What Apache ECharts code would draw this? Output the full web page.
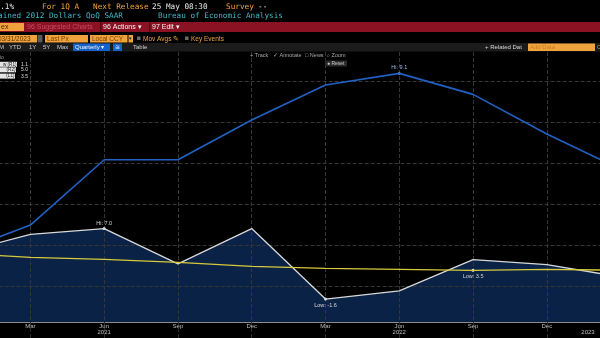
<!DOCTYPE html>
<html><head><meta charset="utf-8">
<script src="https://cdn.jsdelivr.net/npm/echarts@6/dist/echarts.min.js"></script>
<style>html,body{margin:0;padding:0;background:#000;}#c{width:600px;height:338px;}</style>
</head><body><div id="c"></div>
<script>
// ---- data ----
const categories = ['Dec 2020','Mar 2021','Jun 2021','Sep 2021','Dec 2021','Mar 2022','Jun 2022','Sep 2022','Dec 2022','Mar 2023'];
const monthLabels = ['Dec','Mar','Jun','Sep','Dec','Mar','Jun','Sep','Dec','Mar'];
const yearLabels = ['','','2021','','','','2022','','',''];
const extraYearLabel = '2023';
const gdpQoQ = [3.9, 6.3, 7.0, 2.7, 7.0, -1.6, -0.6, 3.2, 2.6, 1.1];   // white area, R1
const cpiYoY = [1.4, 2.6, 5.4, 5.4, 7.1, 8.6, 9.1, 8.2, 6.5, 5.0];    // blue, R2
const seriesL1 = [5.2, 4.8, 4.6, 4.3, 3.9, 3.7, 3.6, 3.5, 3.6, 3.5];  // yellow, L1

const MONO = '"DejaVu Sans Mono","Liberation Mono",monospace';
const SANS = '"Liberation Sans",Arial,sans-serif';
const ORANGE = '#f0a23c';
function T(x, y, text, fill, size, font, align) {
  return {type:'text', x:x, y:y, z:60, silent:true,
    style:{text:text, fill:fill, fontSize:size, fontFamily:font||SANS, verticalAlign:'middle', align:align||'left'}};
}
function R(x, y, w, h, fill, z) {
  return {type:'rect', z:z||55, silent:true, shape:{x:x, y:y, width:w, height:h}, style:{fill:fill}};
}
const last = a => a[a.length-1].toFixed(1);

const graphics = [
  R(0, 0, 600, 51.5, '#000', 50),
  // row 1
  T(-4.5, 7, '1.1%', '#e6e6e6', 7.7, MONO),
  T(42, 7, 'For 1Q A', ORANGE, 7.7, MONO),
  T(93, 7, 'Next Release', ORANGE, 7.7, MONO),
  T(152, 7, '25 May 08:30', '#e6e6e6', 7.7, MONO),
  T(226, 7, 'Survey', ORANGE, 7.7, MONO),
  T(258, 7, '--', '#e6e6e6', 7.7, MONO),
  // row 2
  T(-2, 16.5, 'ained 2012 Dollars QoQ SAAR', '#3fb6c6', 7.7, MONO),
  T(158, 16.5, 'Bureau of Economic Analysis', '#3fb6c6', 7.7, MONO),
  // row 3 red bar
  R(0, 22, 600, 10, '#8a1222'),
  R(0, 23, 24, 8, ORANGE, 56),
  T(1, 27, 'ex', '#4a2800', 7),
  T(27, 27, '96 Suggested Charts', '#c84a62', 7),
  R(100, 22, 1.5, 10, '#5a0812', 56),
  T(103, 27, '96 Actions \u25BE', '#f2f2f2', 7),
  R(149, 22, 1.5, 10, '#5a0812', 56),
  T(152, 27, '97 Edit \u25BE', '#f2f2f2', 7),
  // row 4
  R(0, 35, 37, 7.5, ORANGE, 56),
  T(-2, 38.8, '03/31/2023', '#5a3000', 6.5),
  R(37.5, 35, 5, 7.5, '#5a5a5a', 56),
  R(45, 35, 43, 7.5, ORANGE, 56),
  T(47, 38.8, 'Last Px', '#7a4200', 6.5),
  R(90, 35, 37.5, 7.5, ORANGE, 56),
  T(92, 38.8, 'Local CCY', '#7a4200', 6.5),
  R(128.5, 35, 4.5, 7.5, ORANGE, 56),
  T(128.8, 38.8, '\u25BE', '#3a2000', 5),
  R(137, 36.5, 3.5, 3.5, '#6a6a6a', 56),
  T(143, 38.8, 'Mov Avgs \u270E', ORANGE, 6.5),
  R(185, 36.5, 3.5, 3.5, '#6a6a6a', 56),
  T(191, 38.8, 'Key Events', ORANGE, 6.5),
  // row 5
  R(0, 43, 600, 8.5, '#1b1b1b', 55),
  T(-1, 47.2, 'M', '#d0d0d0', 6),
  T(9, 47.2, 'YTD', '#d0d0d0', 6),
  T(29, 47.2, '1Y', '#d0d0d0', 6),
  T(43, 47.2, '5Y', '#d0d0d0', 6),
  T(57, 47.2, 'Max', '#d0d0d0', 6),
  R(73, 43.5, 37, 7.5, '#1662c8', 56),
  T(75, 47.2, 'Quarterly \u25BE', '#f4f4f4', 6),
  R(113, 43.5, 9, 7.5, '#1662c8', 56),
  T(114.5, 47.2, '\u2245', '#f4f4f4', 6),
  T(133, 47.2, 'Table', '#d0d0d0', 6),
  T(485, 47.2, '+ Related Dat', '#d8d8d8', 6),
  R(528, 43.5, 67, 7.5, ORANGE, 56),
  T(530, 47.2, 'Add Data', '#c57c22', 6),
  T(597, 47.2, 'C', '#aaaaaa', 6),
  // chart overlay toolbar
  T(250, 55.5, '+ Track', '#a8a8a8', 5.5),
  T(273, 55.5, '\u2713 Annotate', '#a8a8a8', 5.5),
  T(305, 55.5, '\u25A1 News', '#a8a8a8', 5.5),
  T(327, 55.5, '\u2315 Zoom', '#a8a8a8', 5.5),
  R(325, 60.5, 22, 6, '#2a2a2a', 56),
  T(327, 63.6, '\u25CF Reset', '#c8c8c8', 5),
  // legend boxes
  T(0, 57.5, 'io', '#9a9a9a', 5),
  R(0, 61.8, 17, 5, '#e4e4e4', 56),
  T(16.5, 64.4, 'w (R1)', '#202020', 4.6, SANS, 'right'),
  T(21, 64.4, last(gdpQoQ), '#dcdcdc', 5),
  R(0, 67.3, 16, 5, '#e4e4e4', 56),
  T(15.5, 69.9, '(R2)', '#202020', 4.6, SANS, 'right'),
  T(21, 69.9, last(cpiYoY), '#dcdcdc', 5),
  R(0, 73.6, 15, 5, '#e4e4e4', 56),
  T(14.5, 76.2, '(L1)', '#202020', 4.6, SANS, 'right'),
  T(21, 76.2, last(seriesL1), '#dcdcdc', 5),
  // trailing year label
  T(588, 332.2, extraYearLabel, '#bdbdbd', 6, SANS, 'center')
];

function hiLow(color, labelColor, which) {
  const items = [];
  if (which.indexOf('max') >= 0) items.push({type:'max', name:'Hi', label:{position:'top', distance:1}});
  if (which.indexOf('min') >= 0) items.push({type:'min', name:'Low', label:{position:'bottom', distance:1.5}});
  return {
    symbol:'circle', symbolSize:3, itemStyle:{color:color},
    label:{show:true, fontSize:5.5, color:labelColor, fontFamily:SANS,
      formatter: p => p.name + ': ' + Number(p.value).toFixed(1)},
    data: items
  };
}

const gridLineStyle = {color:'#363636', type:'dashed', width:1};
const chart = echarts.init(document.getElementById('c'), null, {renderer:'canvas', width:600, height:338});
chart.setOption({
  backgroundColor:'#000',
  animation:false,
  grid:{left:-43.4, width:664, top:40, height:282, containLabel:false, outerBoundsMode:'none'},
  xAxis:{
    type:'category', data:categories, boundaryGap:false, z:3, position:'bottom',
    axisLine:{onZero:false, lineStyle:{color:'#8c8c8c', width:1}},
    axisTick:{show:true, length:16, lineStyle:{color:'#2e2e2e', type:'dashed'}},
    axisLabel:{interval:0, fontSize:6, lineHeight:6, margin:1, color:'#bdbdbd', fontFamily:SANS,
      formatter:(v, i) => monthLabels[i] + (yearLabels[i] ? '\n' + yearLabels[i] : '')},
    splitLine:{show:true, lineStyle:gridLineStyle}
  },
  yAxis:[
    {type:'value', min:-4.4, max:30, show:false},
    {type:'value', min:-1.55, max:10.53, show:false},
    {type:'value', min:-1.67, max:26.53, show:false},
    {type:'value', min:0, max:282, interval:41, inverse:true, position:'right', z:3,
      axisLine:{show:false}, axisTick:{show:false}, axisLabel:{show:false},
      splitLine:{show:true, showMinLine:false, showMaxLine:false, lineStyle:gridLineStyle}}
  ],
  series:[
    {name:'R1 area', type:'line', yAxisIndex:0, data:gdpQoQ, symbol:'none', z:1, silent:true,
      lineStyle:{width:0, opacity:0},
      areaStyle:{color:'#0a2246', opacity:1, origin:'start'}},
    {name:'R1', type:'line', yAxisIndex:0, data:gdpQoQ, symbol:'none', z:5,
      lineStyle:{color:'#d8d8d8', width:1.3},
      markPoint:hiLow('#e6e6e6', '#d8d8d8', ['max','min'])},
    {name:'L1', type:'line', yAxisIndex:2, data:seriesL1, symbol:'none', z:6,
      lineStyle:{color:'#d6c93c', width:1.3},
      markPoint:hiLow('#e6e6e6', '#d0d0d0', ['min'])},
    {name:'R2', type:'line', yAxisIndex:1, data:cpiYoY, symbol:'none', z:7,
      lineStyle:{color:'#2162c4', width:1.6},
      markPoint:hiLow('#7fa6e0', '#9dbbe6', ['max'])}
  ],
  graphic:graphics
});
</script>
</body></html>
